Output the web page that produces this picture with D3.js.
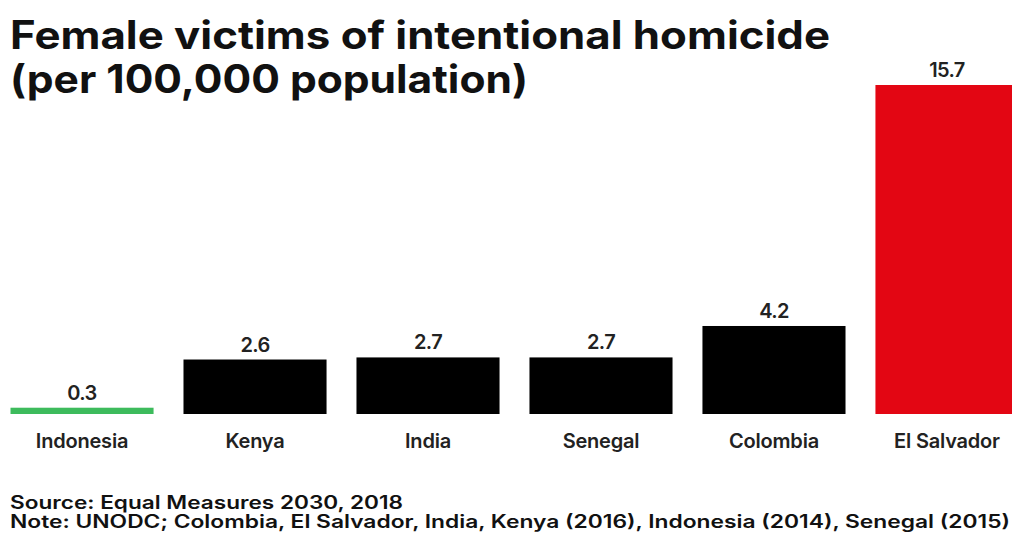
<!DOCTYPE html>
<html><head><meta charset="utf-8">
<script src="https://cdn.jsdelivr.net/npm/d3@7"></script>
<style>
html,body{margin:0;padding:0;background:#fff;}
svg{display:block;font-family:Inter,"Liberation Sans",sans-serif;}
</style></head>
<body>
<svg id="chart" width="1012" height="538"></svg>
<script>
const categories = ["Indonesia","Kenya","India","Senegal","Colombia","El Salvador"];
const values = [0.3, 2.6, 2.7, 2.7, 4.2, 15.7];
const valueLabels = ["0.3","2.6","2.7","2.7","4.2","15.7"];
const barColors = ["#3dbb5c","#000000","#000000","#000000","#000000","#e30613"];
const titleLines = ["Female victims of intentional homicide","(per 100,000 population)"];
const footerLines = ["Source: Equal Measures 2030, 2018","Note: UNODC; Colombia, El Salvador, India, Kenya (2016), Indonesia (2014), Senegal (2015)"];

const svg = d3.select("#chart");
const baseY = 414;
const x = d3.scaleBand().domain(categories).range([10.5, 1018.5]).paddingInner(0.173).paddingOuter(0);
const y = d3.scaleLinear().domain([0, 15.7]).range([baseY, 85]);

svg.append("text").attr("x",10).attr("y",49).attr("font-size",39).attr("font-weight",700)
  .attr("fill","#111").attr("textLength",820).attr("lengthAdjust","spacingAndGlyphs").text(titleLines[0]);
svg.append("text").attr("x",10).attr("y",93).attr("font-size",39).attr("font-weight",700)
  .attr("fill","#111").attr("textLength",518).attr("lengthAdjust","spacingAndGlyphs").text(titleLines[1]);

svg.selectAll("rect.bar").data(categories).join("rect").attr("class","bar")
  .attr("x", d=>x(d)).attr("width", x.bandwidth())
  .attr("y", (d,i)=>y(values[i])).attr("height",(d,i)=>baseY - y(values[i]))
  .attr("fill",(d,i)=>barColors[i]);

svg.selectAll("text.val").data(categories).join("text").attr("class","val")
  .attr("x", d=>x(d)+x.bandwidth()/2).attr("y",(d,i)=>y(values[i])-8)
  .attr("text-anchor","middle").attr("font-size",20).attr("font-weight",600).attr("fill","#222")
  .attr("letter-spacing",-0.6)
  .text((d,i)=>valueLabels[i]);

const xAxis = svg.append("g").attr("transform",`translate(0,${baseY})`)
  .call(d3.axisBottom(x).tickSize(0).tickPadding(20));
xAxis.select(".domain").remove();
xAxis.selectAll("text").attr("font-size",20).attr("font-weight",600).attr("fill","#222")
  .attr("font-family","Inter,sans-serif").attr("letter-spacing",-0.2);

svg.append("text").attr("x",10).attr("y",509).attr("font-size",18).attr("font-weight",600).attr("fill","#111")
  .attr("textLength",393).attr("lengthAdjust","spacingAndGlyphs").text(footerLines[0]);
svg.append("text").attr("x",10).attr("y",528).attr("font-size",18).attr("font-weight",600).attr("fill","#111")
  .attr("textLength",1000).attr("lengthAdjust","spacingAndGlyphs").text(footerLines[1]);
</script>
</body></html>
